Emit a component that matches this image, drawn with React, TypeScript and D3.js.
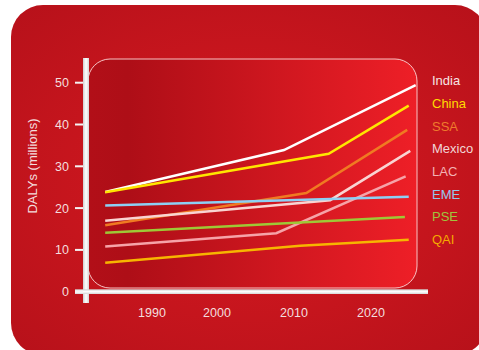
import React from "react";
import * as d3 from "d3";

const seriesNames = ["India", "China", "SSA", "Mexico", "LAC", "EME", "PSE", "QAI"];
const lineColors = ["#ffffff", "#ffe600", "#f07a22", "#f9d4d2", "#f6a3a8", "#8dd0f4", "#9ec836", "#f7b500"];
const legendColors = ["#f6e4e4", "#ffdd00", "#ef7b2c", "#f1d6d6", "#f3b2b4", "#94c7ec", "#a0c43c", "#f5a900"];

const indiaPts: [number, number][] = [[1982.8, 23.85], [2008.7, 33.9], [2025.8, 49.4]];
const chinaPts: [number, number][] = [[1982.8, 23.8], [2014.5, 33.0], [2024.9, 44.5]];
const ssaPts: [number, number][] = [[1982.8, 15.9], [2011.6, 23.6], [2024.7, 38.7]];
const mexicoPts: [number, number][] = [[1982.8, 17.0], [2014.7, 21.9], [2025.1, 33.7]];
const lacPts: [number, number][] = [[1982.8, 10.8], [2007.7, 14.0], [2024.5, 27.6]];
const emePts: [number, number][] = [[1982.8, 20.6], [2024.9, 22.7]];
const psePts: [number, number][] = [[1982.8, 14.1], [2024.4, 17.9]];
const qaiPts: [number, number][] = [[1982.8, 6.9], [2010.8, 11.0], [2024.9, 12.4]];
const allSeries = [indiaPts, chinaPts, ssaPts, mexicoPts, lacPts, emePts, psePts, qaiPts];

const xTickYears = [1990, 2000, 2010, 2020];
const yTickValues = [0, 10, 20, 30, 40, 50];
const yTitle = "DALYs (millions)";

export default function App() {
  const x = d3.scaleLinear().domain(xTickYears).range([152, 217, 294, 371]);
  const y = d3.scaleLinear().domain([0, 50]).range([291.7, 82.7]);
  const line = d3
    .line<[number, number]>()
    .x((d) => x(d[0]))
    .y((d) => y(d[1]));
  const font = "'Liberation Sans', Arial, sans-serif";
  const textCol = "#f3dede";

  return (
    <svg
      width={479}
      height={350}
      style={{ position: "absolute", left: 0, top: 0, background: "#ffffff" }}
    >
      <defs>
        <radialGradient id="outerG" cx="0.5" cy="0.5" r="0.7">
          <stop offset="0" stopColor="#d81a21" />
          <stop offset="1" stopColor="#b7111a" />
        </radialGradient>
        <linearGradient id="innerG" x1="0" x2="1" y1="0" y2="0">
          <stop offset="0" stopColor="#b20f18" />
          <stop offset="0.12" stopColor="#ae0e17" />
          <stop offset="1" stopColor="#ee1f27" />
        </linearGradient>
        <linearGradient id="vBar" x1="0" x2="1" y1="0" y2="0">
          <stop offset="0" stopColor="#cfcfcf" />
          <stop offset="0.5" stopColor="#ffffff" />
          <stop offset="1" stopColor="#d5d5d5" />
        </linearGradient>
        <linearGradient id="hBar" x1="0" x2="0" y1="0" y2="1">
          <stop offset="0" stopColor="#d0d0d0" />
          <stop offset="0.5" stopColor="#ffffff" />
          <stop offset="1" stopColor="#d5d5d5" />
        </linearGradient>
      </defs>
      <rect x={11} y={5} width={476} height={350} rx={32} fill="url(#outerG)" />
      <rect
        x={88}
        y={59}
        width={329}
        height={229}
        rx={22}
        fill="url(#innerG)"
        stroke="rgba(255,225,225,0.85)"
        strokeWidth={1}
      />
      {allSeries.map((pts, i) => (
        <path
          key={seriesNames[i]}
          d={line(pts) || ""}
          fill="none"
          stroke={lineColors[i]}
          strokeWidth={2.5}
        />
      ))}
      <rect x={83} y={58} width={6} height={245} fill="url(#vBar)" />
      <rect x={75} y={289.3} width={353} height={4.7} fill="url(#hBar)" />
      {yTickValues.map((v) => (
        <g key={v}>
          <line x1={75} x2={83} y1={y(v)} y2={y(v)} stroke="#f4f4f4" strokeWidth={2} />
          <text
            x={69}
            y={y(v) + 4.5}
            textAnchor="end"
            fontFamily={font}
            fontSize={12.5}
            fill={textCol}
          >
            {v}
          </text>
        </g>
      ))}
      {xTickYears.map((yr) => (
        <text
          key={yr}
          x={x(yr)}
          y={317}
          textAnchor="middle"
          fontFamily={font}
          fontSize={12.5}
          fill={textCol}
        >
          {yr}
        </text>
      ))}
      <text
        transform="translate(37,166) rotate(-90)"
        textAnchor="middle"
        fontFamily={font}
        fontSize={13}
        fill={textCol}
      >
        {yTitle}
      </text>
      {seriesNames.map((n, i) => (
        <text
          key={n}
          x={432}
          y={85.2 + i * 22.7}
          fontFamily={font}
          fontSize={13}
          fill={legendColors[i]}
        >
          {n}
        </text>
      ))}
    </svg>
  );
}
